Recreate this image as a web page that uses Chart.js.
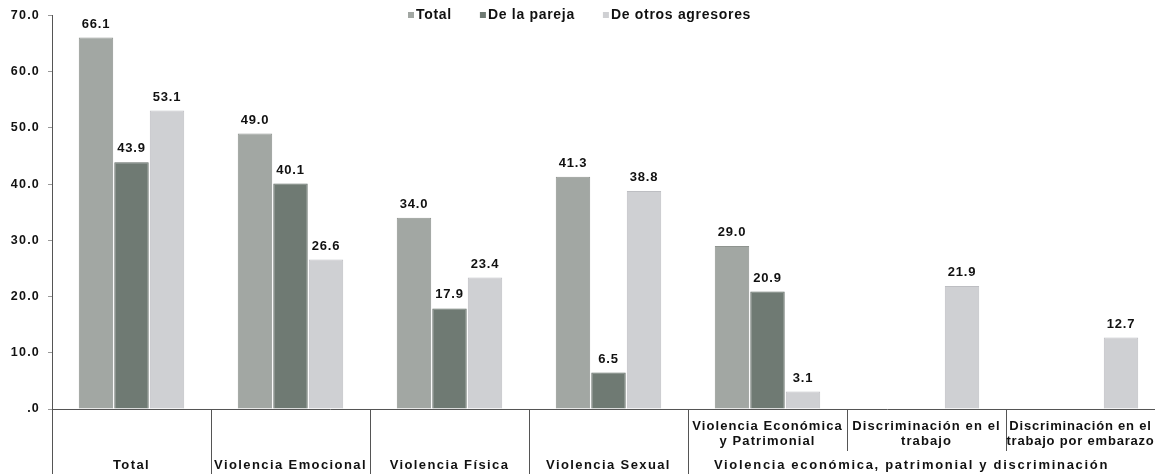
<!DOCTYPE html>
<html>
<head>
<meta charset="UTF-8">
<title>violencia.html</title>
<style>
body{
	margin: 0;
	background-color: white;
	overflow: hidden;
}
#wrap{
	width: 1166px;
	height: 474px;
}
</style>
</head>
<body>
<div id="wrap">
	<canvas id="myChart" width="1166" height="474"></canvas>
</div>
<script src="https://cdn.jsdelivr.net/npm/chart.js@4"></script>
<script>
// datos
let categorias = ['Total', 'Violencia Emocional', 'Violencia Física', 'Violencia Sexual',
	['Violencia Económica', 'y Patrimonial'], ['Discriminación en el', 'trabajo'], ['Discriminación en el', 'trabajo por embarazo']];
let grupoSuperior = 'Violencia económica, patrimonial y discriminación';
let series = ['Total', 'De la pareja', 'De otros agresores'];
let total = [66.1, 49.0, 34.0, 41.3, 29.0, null, null];
let pareja = [43.9, 40.1, 17.9, 6.5, 20.9, null, null];
let otros = [53.1, 26.6, 23.4, 38.8, 3.1, 21.9, 12.7];
let yTicks = [0, 10, 20, 30, 40, 50, 60, 70];

let colores = ['#a2a7a3', '#6f7a73', '#cfd0d3'];
let bordes = ['#8f948f', '#5e6862', '#bdbec2'];
let fuente = 'Arial, "Liberation Sans", sans-serif';

// etiquetas encima de las barras, leyenda y separadores del eje x
const dibujos = {
	id: 'dibujos',
	beforeDraw(chart){
		// el texto del original es ancho (escaneado)
		chart.ctx.letterSpacing = '1.2px';
	},
	afterDatasetsDraw(chart){
		const ctx = chart.ctx;
		const area = chart.chartArea;
		const x = chart.scales.x;
		ctx.save();
		ctx.fillStyle = '#111';
		ctx.letterSpacing = '0.8px';
		ctx.font = 'bold 13px ' + fuente;
		ctx.textAlign = 'center';
		ctx.textBaseline = 'bottom';
		chart.data.datasets.forEach(function(ds, i){
			chart.getDatasetMeta(i).data.forEach(function(bar, j){
				if(ds.data[j] == null) return;
				ctx.fillText(ds.data[j].toFixed(1), bar.x, bar.y - 7);
			});
		});

		// leyenda
		ctx.font = 'bold 14px ' + fuente;
		ctx.letterSpacing = '0.7px';
		ctx.textAlign = 'left';
		ctx.textBaseline = 'middle';
		let lx = 408;
		series.forEach(function(s, i){
			ctx.fillStyle = colores[i];
			ctx.fillRect(lx, 12, 6, 6);
			ctx.fillStyle = '#111';
			ctx.fillText(s, lx + 8, 15);
			lx += 8 + ctx.measureText(s).width + 28;
		});

		// eje y hasta abajo
		ctx.strokeStyle = '#555';
		ctx.lineWidth = 1;
		ctx.beginPath();
		ctx.moveTo(area.left + 0.5, area.bottom);
		ctx.lineTo(area.left + 0.5, chart.height);
		ctx.stroke();

		// separadores entre categorias
		let paso = x.getPixelForValue(1) - x.getPixelForValue(0);
		for(let i = 1; i < categorias.length; i++){
			let sx = Math.round(x.getPixelForValue(i) - paso / 2) + 0.5;
			ctx.beginPath();
			ctx.moveTo(sx, area.bottom);
			ctx.lineTo(sx, i >= 5 ? area.bottom + 42 : chart.height);
			ctx.stroke();
		}

		// textos del eje x
		let visible = window.innerWidth || 1155;
		ctx.font = 'bold 13px ' + fuente;
		ctx.textAlign = 'center';
		ctx.fillStyle = '#111';
		categorias.forEach(function(c, i){
			let cx = x.getPixelForValue(i);
			if(Array.isArray(c)){
				ctx.letterSpacing = '1.1px';
				// la ultima columna queda cortada por el borde, se centra en lo visible
				let izq = cx - paso / 2;
				if(cx + paso / 2 > visible){
					cx = (izq + visible) / 2;
					ctx.letterSpacing = '0.8px';
				}
				ctx.fillText(c[0], cx, area.bottom + 17);
				ctx.fillText(c[1], cx, area.bottom + 32);
			}else{
				ctx.letterSpacing = '1.4px';
				ctx.fillText(c, cx, area.bottom + 56);
			}
		});
		ctx.letterSpacing = '1.7px';
		let gx = (x.getPixelForValue(4) - paso / 2 + x.getPixelForValue(6) + paso / 2) / 2 - 15;
		ctx.fillText(grupoSuperior, gx, area.bottom + 56);
		ctx.restore();
	}
};

new Chart(document.getElementById('myChart'), {
	type: 'bar',
	data: {
		labels: categorias,
		datasets: [
			{label: series[0], data: total, backgroundColor: colores[0], borderColor: bordes[0], borderWidth: 1},
			{label: series[1], data: pareja, backgroundColor: colores[1], borderColor: bordes[1], borderWidth: 1},
			{label: series[2], data: otros, backgroundColor: colores[2], borderColor: bordes[2], borderWidth: 1}
		]
	},
	options: {
		responsive: false,
		animation: false,
		categoryPercentage: 0.67,
		barPercentage: 0.97,
		layout: {padding: {top: 15, right: 1, left: 0, bottom: 0}},
		plugins: {
			legend: {display: false},
			tooltip: {enabled: false}
		},
		scales: {
			x: {
				grid: {display: false},
				border: {display: true, color: '#555'},
				ticks: {display: false},
				afterFit: function(s){ s.height = 65; }
			},
			y: {
				min: 0,
				max: 70,
				afterBuildTicks: function(s){ s.ticks = yTicks.map(function(v){ return {value: v}; }); },
				grid: {drawOnChartArea: false, drawTicks: true, tickLength: 4, color: '#999'},
				border: {display: true, color: '#555'},
				ticks: {
					color: '#111',
					padding: 8,
					font: {family: fuente, size: 12.5, weight: 'bold'},
					callback: function(v){ return v == 0 ? '.0' : v.toFixed(1); }
				},
				afterFit: function(s){ s.width = 52; }
			}
		}
	},
	plugins: [dibujos]
});
</script>
</body>
</html>
